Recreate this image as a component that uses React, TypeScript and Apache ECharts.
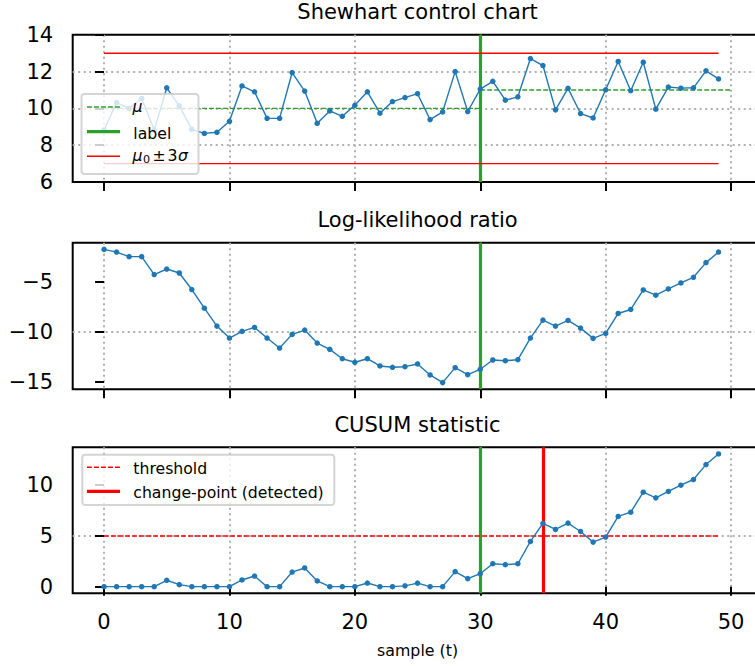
import { useEffect, useRef } from 'react';
import * as echarts from 'echarts';

const FONT = "'DejaVu Sans', 'Liberation Sans', sans-serif";

// sample index t
const samples = [
  0, 1, 2, 3, 4, 5, 6, 7, 8, 9, 10, 11, 12, 13, 14, 15, 16, 17, 18, 19, 20, 21, 22, 23, 24,
  25, 26, 27, 28, 29, 30, 31, 32, 33, 34, 35, 36, 37, 38, 39, 40, 41, 42, 43, 44, 45, 46, 47, 48, 49,
];

// observed process values
const observations = [
  8.82, 10.32, 10.0, 10.54, 8.82, 11.12, 10.14, 8.86, 8.64, 8.7,
  9.3, 11.22, 10.9, 9.46, 9.46, 11.95, 10.94, 9.19, 9.86, 9.57,
  10.17, 10.9, 9.74, 10.37, 10.59, 10.8, 9.39, 9.81, 12.0, 9.83,
  11.05, 11.47, 10.45, 10.63, 12.71, 12.33, 9.92, 11.09, 9.72, 9.48,
  11.01, 12.55, 10.96, 12.51, 9.96, 11.16, 11.1, 11.12, 12.04, 11.6,
];

// cumulative log-likelihood ratio
const logLikelihood = [
  -1.73, -2.0, -2.46, -2.46, -4.26, -3.7, -4.1, -5.76, -7.63, -9.43,
  -10.63, -9.96, -9.56, -10.63, -11.63, -10.26, -9.83, -11.13, -11.76, -12.7,
  -13.06, -12.7, -13.43, -13.56, -13.5, -13.23, -14.33, -15.1, -13.6, -14.3,
  -13.76, -12.83, -12.9, -12.8, -10.63, -8.83, -9.43, -8.86, -9.63, -10.66,
  -10.16, -8.16, -7.76, -5.8, -6.33, -5.7, -5.1, -4.53, -3.06, -2.0,
];

// CUSUM statistic
const cusum = [
  0, 0, 0, 0, 0, 0.63, 0.2, 0, 0, 0,
  0, 0.66, 1.05, 0, 0, 1.44, 1.84, 0.56, 0, 0,
  0, 0.36, 0, 0, 0.08, 0.35, 0, 0, 1.48, 0.79,
  1.28, 2.26, 2.17, 2.26, 4.46, 6.23, 5.64, 6.26, 5.44, 4.39,
  4.89, 6.92, 7.34, 9.31, 8.75, 9.38, 10.0, 10.56, 12.03, 13.08,
];

// model parameters and events
const mu0 = 10;
const sigma = 1;
const muBefore = 10;
const muAfter = 11;
const trueChange = 30;
const detectedChange = 35;
const threshold = 5;
const muSpan = [0, 30, 50];
const limitSpan = [0, 49];

// tick labels
const xTicks = [0, 10, 20, 30, 40, 50];
const shewhartTicks = [6, 8, 10, 12, 14];
const llrTicks = [-15, -10, -5];
const cusumTicks = [0, 5, 10];

const titles = ['Shewhart control chart', 'Log-likelihood ratio', 'CUSUM statistic'];

const BLUE = '#1f77b4';
const GREEN = '#2ca02c';
const RED = '#ff0000';
const GRID_GRAY = '#b0b0b0';

// the plot area runs past the right edge of the visible page
const VIEW_W = 755;
const VIEW_H = 666;
const CANVAS_W = 780;
const LEFT = 72.7;
const PLOT_W = 689.7;
const panels = [
  { top: 34.8, height: 147.2, min: 6, max: 14, ticks: shewhartTicks },
  { top: 242.7, height: 146.6, min: -15.77, max: -1.06, ticks: llrTicks },
  { top: 447.3, height: 146.0, min: -0.654, max: 13.734, ticks: cusumTicks },
];

const fmt = (v: number) => (v < 0 ? '\u2212' + Math.abs(v) : String(v));

const dotted = { color: GRID_GRAY, width: 2, type: [2, 3.5] as number[] };
const dashed = [4.9, 2.1];

function text(
  str: string,
  x: number,
  y: number,
  size: number,
  opts: { italic?: boolean; align?: string } = {},
) {
  return {
    type: 'text',
    x,
    y,
    z: 101,
    silent: true,
    style: {
      text: str,
      fontSize: size,
      fontFamily: FONT,
      fontStyle: opts.italic ? 'italic' : 'normal',
      fill: '#000',
      textAlign: opts.align || 'left',
      textVerticalAlign: 'middle',
    },
  };
}

function handle(y: number, color: string, width: number, dash?: number[]) {
  return {
    type: 'line',
    z: 101,
    silent: true,
    shape: { x1: 87, y1: y, x2: 120, y2: y },
    style: { stroke: color, lineWidth: width, lineDash: dash || null },
  };
}

function frame(x: number, y: number, w: number, h: number) {
  return {
    type: 'rect',
    z: 100,
    silent: true,
    shape: { x, y, width: w, height: h, r: 3 },
    style: { fill: 'rgba(255,255,255,0.8)', stroke: 'rgba(204,204,204,0.85)', lineWidth: 2 },
  };
}

function buildOption() {
  const grid = panels.map((p) => ({
    left: LEFT,
    top: p.top,
    width: PLOT_W,
    height: p.height,
    show: true,
    borderColor: '#000',
    borderWidth: 2,
    backgroundColor: 'transparent',
    containLabel: false,
    outerBoundsMode: 'none',
  }));

  const xAxis = panels.map((_, i) => ({
    type: 'value',
    gridIndex: i,
    min: -2.5,
    max: 52.5,
    axisLine: { show: false },
    axisTick: {
      show: true,
      customValues: xTicks,
      length: 9,
      inside: false,
      lineStyle: { color: '#000', width: 2 },
    },
    axisLabel: {
      show: i === 2,
      customValues: xTicks,
      margin: 17.7,
      color: '#000',
      fontSize: 21,
      fontFamily: FONT,
      formatter: fmt,
    },
    splitLine: { show: true, lineStyle: dotted },
  }));

  const yAxis = panels.map((p, i) => ({
    type: 'value',
    gridIndex: i,
    min: p.min,
    max: p.max,
    axisLine: { show: false },
    axisTick: {
      show: true,
      customValues: p.ticks,
      length: 9,
      inside: false,
      lineStyle: { color: '#000', width: 2 },
    },
    axisLabel: {
      show: true,
      customValues: p.ticks,
      margin: 19.5,
      color: '#000',
      fontSize: 21,
      fontFamily: FONT,
      formatter: fmt,
    },
    splitLine: { show: true, showMinLine: false, showMaxLine: false, lineStyle: dotted },
  }));

  const seriesLine = (
    i: number,
    data: number[][],
    color: string,
    width: number,
    type: any = 'solid',
    z = 2,
  ) => ({
    type: 'line',
    xAxisIndex: i,
    yAxisIndex: i,
    data,
    symbol: 'none',
    silent: true,
    z,
    lineStyle: { color, width, type },
  });

  const vline = (x: number, color: string) => ({
    xAxis: x,
    lineStyle: { color, width: 3.2, type: 'solid' },
  });

  const markLine = (lines: any[]) => ({
    silent: true,
    symbol: ['none', 'none'],
    label: { show: false },
    z: 1,
    data: lines,
  });

  const dataSeries = (i: number, values: number[], lines: any[]) => ({
    type: 'line',
    xAxisIndex: i,
    yAxisIndex: i,
    data: samples.map((t, k) => [t, values[k]]),
    symbol: 'circle',
    symbolSize: 5.5,
    showSymbol: true,
    silent: true,
    z: 3,
    itemStyle: { color: BLUE, borderWidth: 0 },
    lineStyle: { color: BLUE, width: 1.4 },
    markLine: markLine(lines),
  });

  const upper = mu0 + 3 * sigma;
  const lower = mu0 - 3 * sigma;

  const series = [
    seriesLine(0, [[muSpan[0], muBefore], [muSpan[1], muBefore]], GREEN, 1.3, dashed),
    seriesLine(0, [[muSpan[1], muAfter], [muSpan[2], muAfter]], GREEN, 1.3, dashed),
    seriesLine(0, [[limitSpan[0], upper], [limitSpan[1], upper]], RED, 1.4),
    seriesLine(0, [[limitSpan[0], lower], [limitSpan[1], lower]], RED, 1.4),
    dataSeries(0, observations, [vline(trueChange, GREEN)]),
    dataSeries(1, logLikelihood, [vline(trueChange, GREEN)]),
    seriesLine(2, [[limitSpan[0], threshold], [limitSpan[1], threshold]], RED, 1.4, dashed),
    dataSeries(2, cusum, [vline(trueChange, GREEN), vline(detectedChange, RED)]),
  ];

  const centerX = LEFT + PLOT_W / 2;

  const graphic = [
    // panel titles
    ...panels.map((p, i) => text(titles[i], centerX, p.top - 22.5, 21, { align: 'center' })),
    // x axis label
    text('sample (t)', centerX, 650, 15.8, { align: 'center' }),

    // legend of the control chart
    frame(81.5, 94, 117, 80),
    handle(107, GREEN, 1.3, dashed),
    text('\u03bc', 132.5, 106.5, 15.7, { italic: true }),
    handle(131.7, GREEN, 3.2),
    text('label', 133.3, 133.2, 15.7),
    handle(156.3, RED, 1.4),
    text('\u03bc', 132.5, 155.2, 15.7, { italic: true }),
    text('0', 143, 159.2, 11.2),
    text('\u00b1', 152.5, 155.2, 15.7),
    text('3', 167.5, 155.2, 15.7),
    text('\u03c3', 178, 155.2, 15.7, { italic: true }),

    // legend of the CUSUM chart
    frame(82.3, 454.7, 252, 50.3),
    handle(467.3, RED, 1.4, dashed),
    text('threshold', 133.3, 468.8, 15.7),
    handle(491.3, RED, 3.2),
    text('change-point (detected)', 133.3, 492.8, 15.7),
  ];

  return {
    animation: false,
    backgroundColor: '#ffffff',
    grid,
    xAxis,
    yAxis,
    series,
    graphic,
  };
}

export default function App() {
  const ref = useRef<HTMLDivElement>(null);

  useEffect(() => {
    if (!ref.current) return;
    const chart = echarts.init(ref.current, undefined, { renderer: 'svg' });
    chart.setOption(buildOption() as any);
    return () => chart.dispose();
  }, []);

  return (
    <div
      style={{
        position: 'absolute',
        left: 0,
        top: 0,
        width: VIEW_W,
        height: VIEW_H,
        overflow: 'hidden',
        background: '#ffffff',
      }}
    >
      <div ref={ref} style={{ width: CANVAS_W, height: VIEW_H }} />
    </div>
  );
}
